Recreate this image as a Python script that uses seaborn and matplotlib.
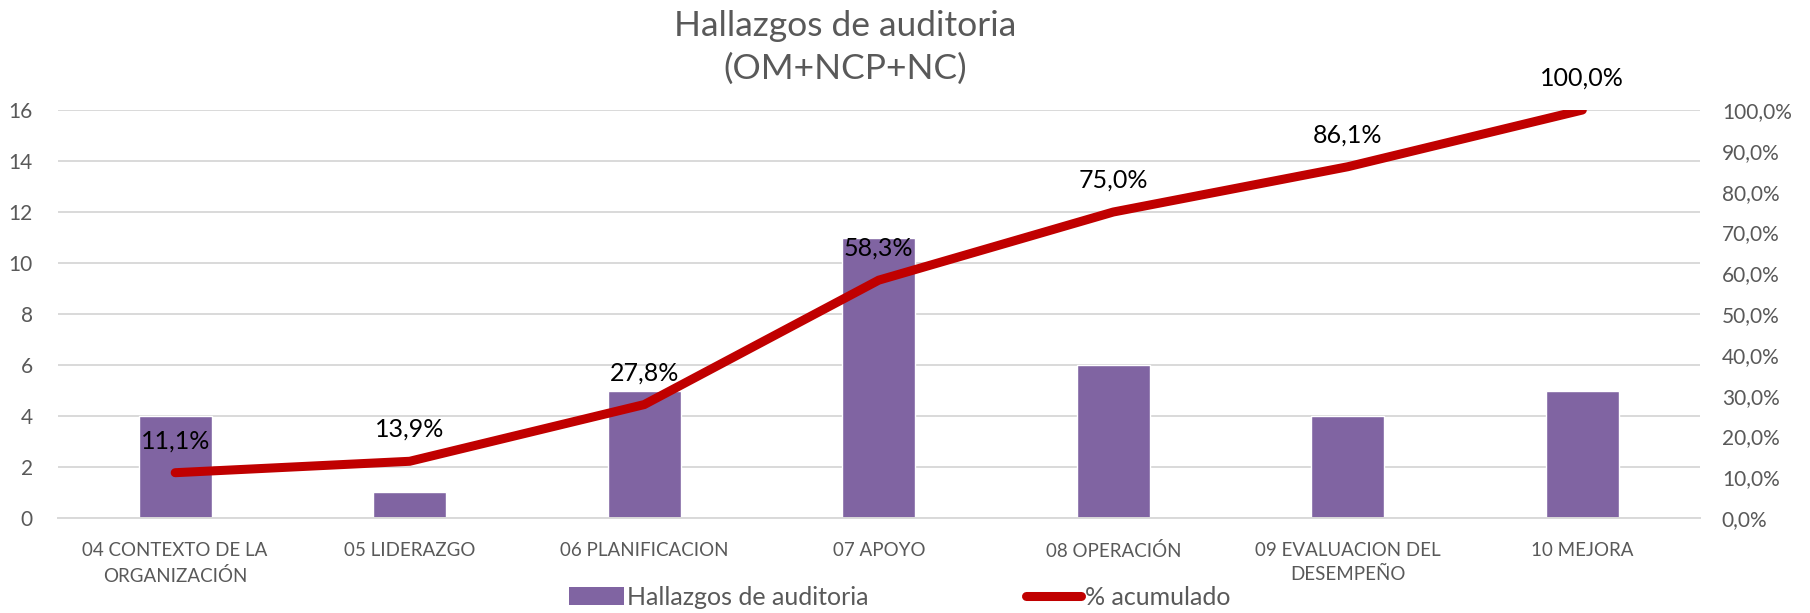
import numpy as np
import matplotlib
matplotlib.use("Agg")
import matplotlib.pyplot as plt
import seaborn as sns
from matplotlib.patches import Patch
from matplotlib.lines import Line2D

categorias = ["04 CONTEXTO DE LA\nORGANIZACIÓN", "05 LIDERAZGO", "06 PLANIFICACION",
              "07 APOYO", "08 OPERACIÓN", "09 EVALUACION DEL\nDESEMPEÑO", "10 MEJORA"]
hallazgos = [4, 1, 5, 11, 6, 4, 5]
pct_acumulado = [11.1, 13.9, 27.8, 58.3, 75.0, 86.1, 100.0]
ticks_izq = [0, 2, 4, 6, 8, 10, 12, 14, 16]
ticks_der = [0, 10, 20, 30, 40, 50, 60, 70, 80, 90, 100]

morado = "#8064A2"
rojo = "#C00000"
gris = "#595959"
rejilla = "#D9D9D9"

sns.set_style("white")
plt.rcParams["font.family"] = ["Lato", "DejaVu Sans"]

fig = plt.figure(figsize=(18.10, 6.13), dpi=100)
ax = fig.add_axes([0.032, 0.155, 0.907, 0.6655])

pos = np.arange(len(categorias))
sns.barplot(x=pos, y=hallazgos, color=morado, saturation=1, width=0.31, ax=ax, zorder=2)
ax.set_xlim(-0.5, len(categorias) - 0.5)
ax.set_ylim(0, 16)
ax.set_yticks(ticks_izq)
ax.set_xticks(pos)
ax.set_xticklabels(categorias, linespacing=1.55)
ax.yaxis.grid(True, color=rejilla, lw=1.4, zorder=0)
ax.set_axisbelow(True)
for s in ["top", "left", "right"]:
    ax.spines[s].set_visible(False)
ax.spines["bottom"].set_color(rejilla)
ax.spines["bottom"].set_linewidth(1.4)
ax.tick_params(axis="x", length=0, pad=17, labelsize=13.5, labelcolor=gris)
ax.tick_params(axis="y", length=0, pad=18, labelsize=15, labelcolor=gris)
ax.set_xlabel("")
ax.set_ylabel("")

# eje secundario con el % acumulado
ax2 = ax.twinx()
sns.lineplot(x=pos, y=pct_acumulado, color=rojo, lw=6.5, ax=ax2,
             solid_capstyle="round", solid_joinstyle="miter")
ax2.set_ylim(0, 100)
ax2.set_yticks(ticks_der)
ax2.set_yticklabels([f"{t:.1f}%".replace(".", ",") for t in ticks_der])
ax2.tick_params(axis="y", length=0, pad=16, labelsize=15, labelcolor=gris)
for s in ax2.spines.values():
    s.set_visible(False)
ax2.grid(False)
ax2.set_ylabel("")

for x, p in zip(pos, pct_acumulado):
    ax2.annotate(f"{p:.1f}%".replace(".", ","), (x, p), xytext=(0, 23),
                 textcoords="offset points", ha="center", va="center",
                 fontsize=18, color="black")

fig.text(0.467, 0.984, "Hallazgos de auditoria\n(OM+NCP+NC)", ha="center", va="top",
         fontsize=25.5, color=gris, linespacing=1.4)

handles = [Patch(facecolor=morado, edgecolor="none"),
           Line2D([0], [0], color=rojo, lw=6.5, solid_capstyle="round")]
fig.legend(handles, ["Hallazgos de auditoria", "% acumulado"], loc="center",
           bbox_to_anchor=(0.497, 0.026), ncol=2, frameon=False, fontsize=18,
           labelcolor=gris, handlelength=2.2, handleheight=0.7, handletextpad=0.15,
           columnspacing=6.3, borderpad=0)

plt.savefig("out.png", dpi=100)
